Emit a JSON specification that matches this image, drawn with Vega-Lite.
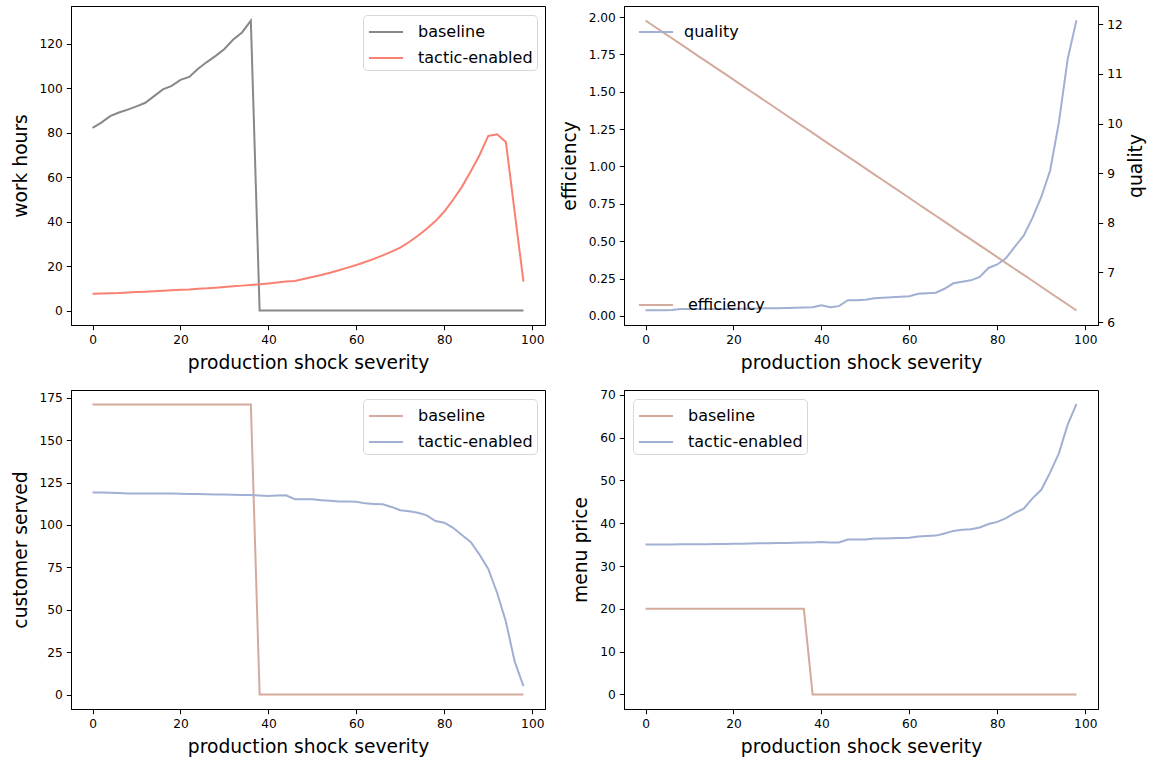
{
  "$schema": "https://vega.github.io/schema/vega-lite/v6.json",
  "padding": {"left": 10, "top": 5, "right": 5, "bottom": 5},
  "background": "white",
  "datasets": {
    "hours": [
      {"s":0,"baseline":82.1,"tactic-enabled":7.6},{"s":2,"baseline":84.5,"tactic-enabled":7.7},{"s":4,"baseline":87.4,"tactic-enabled":7.8},{"s":6,"baseline":89.0,"tactic-enabled":7.9},{"s":8,"baseline":90.3,"tactic-enabled":8.1},{"s":10,"baseline":91.8,"tactic-enabled":8.3},{"s":12,"baseline":93.4,"tactic-enabled":8.5},{"s":14,"baseline":96.4,"tactic-enabled":8.7},{"s":16,"baseline":99.4,"tactic-enabled":8.9},{"s":18,"baseline":101.0,"tactic-enabled":9.1},{"s":20,"baseline":103.7,"tactic-enabled":9.3},{"s":22,"baseline":105.0,"tactic-enabled":9.5},{"s":24,"baseline":108.7,"tactic-enabled":9.8},{"s":26,"baseline":111.7,"tactic-enabled":10.0},{"s":28,"baseline":114.5,"tactic-enabled":10.3},{"s":30,"baseline":117.6,"tactic-enabled":10.6},{"s":32,"baseline":121.8,"tactic-enabled":10.9},{"s":34,"baseline":125.0,"tactic-enabled":11.2},{"s":36,"baseline":130.3,"tactic-enabled":11.5},{"s":38,"baseline":0,"tactic-enabled":11.8},{"s":40,"baseline":0,"tactic-enabled":12.2},{"s":42,"baseline":0,"tactic-enabled":12.6},{"s":44,"baseline":0,"tactic-enabled":13.0},{"s":46,"baseline":0,"tactic-enabled":13.3},{"s":48,"baseline":0,"tactic-enabled":14.2},{"s":50,"baseline":0,"tactic-enabled":15.1},{"s":52,"baseline":0,"tactic-enabled":16.0},{"s":54,"baseline":0,"tactic-enabled":17.0},{"s":56,"baseline":0,"tactic-enabled":18.1},{"s":58,"baseline":0,"tactic-enabled":19.3},{"s":60,"baseline":0,"tactic-enabled":20.5},{"s":62,"baseline":0,"tactic-enabled":21.8},{"s":64,"baseline":0,"tactic-enabled":23.2},{"s":66,"baseline":0,"tactic-enabled":24.8},{"s":68,"baseline":0,"tactic-enabled":26.5},{"s":70,"baseline":0,"tactic-enabled":28.3},{"s":72,"baseline":0,"tactic-enabled":30.8},{"s":74,"baseline":0,"tactic-enabled":33.6},{"s":76,"baseline":0,"tactic-enabled":36.8},{"s":78,"baseline":0,"tactic-enabled":40.2},{"s":80,"baseline":0,"tactic-enabled":44.5},{"s":82,"baseline":0,"tactic-enabled":49.8},{"s":84,"baseline":0,"tactic-enabled":55.6},{"s":86,"baseline":0,"tactic-enabled":62.5},{"s":88,"baseline":0,"tactic-enabled":69.8},{"s":90,"baseline":0,"tactic-enabled":78.5},{"s":92,"baseline":0,"tactic-enabled":79.2},{"s":94,"baseline":0,"tactic-enabled":75.8},{"s":96,"baseline":0,"tactic-enabled":44.4},{"s":98,"baseline":0,"tactic-enabled":13.0}
    ],
    "eq": [
      {"s":0,"efficiency":1.977,"quality":6.235},{"s":2,"efficiency":1.937,"quality":6.235},{"s":4,"efficiency":1.898,"quality":6.235},{"s":6,"efficiency":1.858,"quality":6.24},{"s":8,"efficiency":1.819,"quality":6.26},{"s":10,"efficiency":1.779,"quality":6.26},{"s":12,"efficiency":1.739,"quality":6.26},{"s":14,"efficiency":1.700,"quality":6.26},{"s":16,"efficiency":1.660,"quality":6.265},{"s":18,"efficiency":1.621,"quality":6.265},{"s":20,"efficiency":1.581,"quality":6.27},{"s":22,"efficiency":1.541,"quality":6.27},{"s":24,"efficiency":1.502,"quality":6.275},{"s":26,"efficiency":1.462,"quality":6.275},{"s":28,"efficiency":1.423,"quality":6.28},{"s":30,"efficiency":1.383,"quality":6.28},{"s":32,"efficiency":1.343,"quality":6.285},{"s":34,"efficiency":1.304,"quality":6.29},{"s":36,"efficiency":1.264,"quality":6.295},{"s":38,"efficiency":1.225,"quality":6.30},{"s":40,"efficiency":1.185,"quality":6.34},{"s":42,"efficiency":1.145,"quality":6.30},{"s":44,"efficiency":1.106,"quality":6.32},{"s":46,"efficiency":1.066,"quality":6.44},{"s":48,"efficiency":1.027,"quality":6.44},{"s":50,"efficiency":0.987,"quality":6.45},{"s":52,"efficiency":0.947,"quality":6.48},{"s":54,"efficiency":0.908,"quality":6.49},{"s":56,"efficiency":0.868,"quality":6.50},{"s":58,"efficiency":0.829,"quality":6.51},{"s":60,"efficiency":0.789,"quality":6.52},{"s":62,"efficiency":0.749,"quality":6.57},{"s":64,"efficiency":0.710,"quality":6.58},{"s":66,"efficiency":0.670,"quality":6.59},{"s":68,"efficiency":0.631,"quality":6.67},{"s":70,"efficiency":0.591,"quality":6.78},{"s":72,"efficiency":0.551,"quality":6.81},{"s":74,"efficiency":0.512,"quality":6.84},{"s":76,"efficiency":0.472,"quality":6.91},{"s":78,"efficiency":0.433,"quality":7.09},{"s":80,"efficiency":0.393,"quality":7.16},{"s":82,"efficiency":0.353,"quality":7.29},{"s":84,"efficiency":0.314,"quality":7.52},{"s":86,"efficiency":0.274,"quality":7.74},{"s":88,"efficiency":0.235,"quality":8.10},{"s":90,"efficiency":0.195,"quality":8.52},{"s":92,"efficiency":0.155,"quality":9.05},{"s":94,"efficiency":0.116,"quality":10.02},{"s":96,"efficiency":0.076,"quality":11.3},{"s":98,"efficiency":0.036,"quality":12.08}
    ],
    "served": [
      {"s":0,"baseline":171,"tactic-enabled":119.1},{"s":2,"baseline":171,"tactic-enabled":119.1},{"s":4,"baseline":171,"tactic-enabled":119.0},{"s":6,"baseline":171,"tactic-enabled":118.8},{"s":8,"baseline":171,"tactic-enabled":118.5},{"s":10,"baseline":171,"tactic-enabled":118.5},{"s":12,"baseline":171,"tactic-enabled":118.5},{"s":14,"baseline":171,"tactic-enabled":118.5},{"s":16,"baseline":171,"tactic-enabled":118.5},{"s":18,"baseline":171,"tactic-enabled":118.5},{"s":20,"baseline":171,"tactic-enabled":118.3},{"s":22,"baseline":171,"tactic-enabled":118.2},{"s":24,"baseline":171,"tactic-enabled":118.2},{"s":26,"baseline":171,"tactic-enabled":118.1},{"s":28,"baseline":171,"tactic-enabled":118.0},{"s":30,"baseline":171,"tactic-enabled":117.9},{"s":32,"baseline":171,"tactic-enabled":117.8},{"s":34,"baseline":171,"tactic-enabled":117.7},{"s":36,"baseline":171,"tactic-enabled":117.6},{"s":38,"baseline":0,"tactic-enabled":117.4},{"s":40,"baseline":0,"tactic-enabled":117.1},{"s":42,"baseline":0,"tactic-enabled":117.4},{"s":44,"baseline":0,"tactic-enabled":117.5},{"s":46,"baseline":0,"tactic-enabled":115.2},{"s":48,"baseline":0,"tactic-enabled":115.2},{"s":50,"baseline":0,"tactic-enabled":115.1},{"s":52,"baseline":0,"tactic-enabled":114.6},{"s":54,"baseline":0,"tactic-enabled":114.2},{"s":56,"baseline":0,"tactic-enabled":113.8},{"s":58,"baseline":0,"tactic-enabled":113.8},{"s":60,"baseline":0,"tactic-enabled":113.7},{"s":62,"baseline":0,"tactic-enabled":112.7},{"s":64,"baseline":0,"tactic-enabled":112.4},{"s":66,"baseline":0,"tactic-enabled":112.2},{"s":68,"baseline":0,"tactic-enabled":110.6},{"s":70,"baseline":0,"tactic-enabled":108.7},{"s":72,"baseline":0,"tactic-enabled":108.0},{"s":74,"baseline":0,"tactic-enabled":107.2},{"s":76,"baseline":0,"tactic-enabled":105.6},{"s":78,"baseline":0,"tactic-enabled":102.3},{"s":80,"baseline":0,"tactic-enabled":101.3},{"s":82,"baseline":0,"tactic-enabled":98.3},{"s":84,"baseline":0,"tactic-enabled":94.0},{"s":86,"baseline":0,"tactic-enabled":90.0},{"s":88,"baseline":0,"tactic-enabled":82.5},{"s":90,"baseline":0,"tactic-enabled":74.0},{"s":92,"baseline":0,"tactic-enabled":60.0},{"s":94,"baseline":0,"tactic-enabled":43.0},{"s":96,"baseline":0,"tactic-enabled":19.5},{"s":98,"baseline":0,"tactic-enabled":4.9}
    ],
    "price": [
      {"s":0,"baseline":20,"tactic-enabled":35.0},{"s":2,"baseline":20,"tactic-enabled":35.0},{"s":4,"baseline":20,"tactic-enabled":35.0},{"s":6,"baseline":20,"tactic-enabled":35.05},{"s":8,"baseline":20,"tactic-enabled":35.1},{"s":10,"baseline":20,"tactic-enabled":35.1},{"s":12,"baseline":20,"tactic-enabled":35.1},{"s":14,"baseline":20,"tactic-enabled":35.1},{"s":16,"baseline":20,"tactic-enabled":35.15},{"s":18,"baseline":20,"tactic-enabled":35.15},{"s":20,"baseline":20,"tactic-enabled":35.2},{"s":22,"baseline":20,"tactic-enabled":35.2},{"s":24,"baseline":20,"tactic-enabled":35.25},{"s":26,"baseline":20,"tactic-enabled":35.3},{"s":28,"baseline":20,"tactic-enabled":35.3},{"s":30,"baseline":20,"tactic-enabled":35.35},{"s":32,"baseline":20,"tactic-enabled":35.4},{"s":34,"baseline":20,"tactic-enabled":35.45},{"s":36,"baseline":20,"tactic-enabled":35.5},{"s":38,"baseline":0,"tactic-enabled":35.5},{"s":40,"baseline":0,"tactic-enabled":35.6},{"s":42,"baseline":0,"tactic-enabled":35.5},{"s":44,"baseline":0,"tactic-enabled":35.5},{"s":46,"baseline":0,"tactic-enabled":36.2},{"s":48,"baseline":0,"tactic-enabled":36.2},{"s":50,"baseline":0,"tactic-enabled":36.2},{"s":52,"baseline":0,"tactic-enabled":36.4},{"s":54,"baseline":0,"tactic-enabled":36.45},{"s":56,"baseline":0,"tactic-enabled":36.5},{"s":58,"baseline":0,"tactic-enabled":36.55},{"s":60,"baseline":0,"tactic-enabled":36.6},{"s":62,"baseline":0,"tactic-enabled":36.9},{"s":64,"baseline":0,"tactic-enabled":37.0},{"s":66,"baseline":0,"tactic-enabled":37.1},{"s":68,"baseline":0,"tactic-enabled":37.6},{"s":70,"baseline":0,"tactic-enabled":38.2},{"s":72,"baseline":0,"tactic-enabled":38.45},{"s":74,"baseline":0,"tactic-enabled":38.6},{"s":76,"baseline":0,"tactic-enabled":39.0},{"s":78,"baseline":0,"tactic-enabled":39.8},{"s":80,"baseline":0,"tactic-enabled":40.3},{"s":82,"baseline":0,"tactic-enabled":41.2},{"s":84,"baseline":0,"tactic-enabled":42.4},{"s":86,"baseline":0,"tactic-enabled":43.4},{"s":88,"baseline":0,"tactic-enabled":45.8},{"s":90,"baseline":0,"tactic-enabled":47.8},{"s":92,"baseline":0,"tactic-enabled":51.8},{"s":94,"baseline":0,"tactic-enabled":56.3},{"s":96,"baseline":0,"tactic-enabled":63.0},{"s":98,"baseline":0,"tactic-enabled":67.8}
    ]
  },
  "columns": 2,
  "spacing": {"row": 65, "column": 79},
  "bounds": "flush",
  "resolve": {"scale": {"x": "independent", "y": "independent", "color": "independent"}, "legend": {"color": "independent"}},
  "concat": [
    {
      "width": 474, "height": 319,
      "data": {"name": "hours"},
      "transform": [{"fold": ["baseline", "tactic-enabled"], "as": ["series", "v"]}],
      "mark": {"type": "line", "strokeWidth": 2},
      "encoding": {
        "x": {"field": "s", "type": "quantitative", "scale": {"domain": [-4.9, 102.9], "nice": false, "zero": false}, "axis": {"values": [0, 20, 40, 60, 80, 100], "title": "production shock severity"}},
        "y": {"field": "v", "type": "quantitative", "scale": {"domain": [-6.5, 136.9], "nice": false, "zero": false}, "axis": {"values": [0, 20, 40, 60, 80, 100, 120], "title": "work hours"}},
        "color": {"field": "series", "type": "nominal", "scale": {"domain": ["baseline", "tactic-enabled"], "range": ["#888888", "#fa8072"]}, "legend": {"orient": "top-right"}}
      }
    },
    {
      "width": 474, "height": 319,
      "data": {"name": "eq"},
      "layer": [
        {
          "mark": {"type": "line", "strokeWidth": 2},
          "encoding": {
            "x": {"field": "s", "type": "quantitative", "scale": {"domain": [-4.9, 102.9], "nice": false, "zero": false}, "axis": {"values": [0, 20, 40, 60, 80, 100], "title": "production shock severity"}},
            "y": {"field": "efficiency", "type": "quantitative", "scale": {"domain": [-0.061, 2.074], "nice": false, "zero": false}, "axis": {"values": [0, 0.25, 0.5, 0.75, 1, 1.25, 1.5, 1.75, 2], "format": ".2f", "title": "efficiency"}},
            "color": {"datum": "efficiency", "type": "nominal", "scale": {"domain": ["efficiency"], "range": ["#d3aa9c"]}, "legend": {"orient": "bottom-left", "strokeColor": "transparent", "fillColor": "transparent"}}
          }
        },
        {
          "mark": {"type": "line", "strokeWidth": 2},
          "encoding": {
            "x": {"field": "s", "type": "quantitative"},
            "y": {"field": "quality", "type": "quantitative", "scale": {"domain": [5.94, 12.37], "nice": false, "zero": false}, "axis": {"orient": "right", "values": [6, 7, 8, 9, 10, 11, 12], "title": "quality", "titleAngle": 270, "titleBaseline": "top", "titlePadding": 4}},
            "color": {"datum": "quality", "type": "nominal", "scale": {"domain": ["quality"], "range": ["#a0afd2"]}, "legend": {"orient": "top-left", "strokeColor": "transparent", "fillColor": "transparent", "labelOffset": 15}}
          }
        }
      ],
      "resolve": {"scale": {"y": "independent", "color": "independent"}, "axis": {"y": "independent"}, "legend": {"color": "independent"}}
    },
    {
      "width": 474, "height": 319,
      "data": {"name": "served"},
      "transform": [{"fold": ["baseline", "tactic-enabled"], "as": ["series", "v"]}],
      "mark": {"type": "line", "strokeWidth": 2},
      "encoding": {
        "x": {"field": "s", "type": "quantitative", "scale": {"domain": [-4.9, 102.9], "nice": false, "zero": false}, "axis": {"values": [0, 20, 40, 60, 80, 100], "title": "production shock severity"}},
        "y": {"field": "v", "type": "quantitative", "scale": {"domain": [-8.55, 179.55], "nice": false, "zero": false}, "axis": {"values": [0, 25, 50, 75, 100, 125, 150, 175], "title": "customer served"}},
        "color": {"field": "series", "type": "nominal", "scale": {"domain": ["baseline", "tactic-enabled"], "range": ["#d3aa9c", "#a0afd2"]}, "legend": {"orient": "top-right"}}
      }
    },
    {
      "width": 474, "height": 319,
      "data": {"name": "price"},
      "transform": [{"fold": ["baseline", "tactic-enabled"], "as": ["series", "v"]}],
      "mark": {"type": "line", "strokeWidth": 2},
      "encoding": {
        "x": {"field": "s", "type": "quantitative", "scale": {"domain": [-4.9, 102.9], "nice": false, "zero": false}, "axis": {"values": [0, 20, 40, 60, 80, 100], "title": "production shock severity"}},
        "y": {"field": "v", "type": "quantitative", "scale": {"domain": [-3.39, 71.1], "nice": false, "zero": false}, "axis": {"values": [0, 10, 20, 30, 40, 50, 60, 70], "title": "menu price"}},
        "color": {"field": "series", "type": "nominal", "scale": {"domain": ["baseline", "tactic-enabled"], "range": ["#d3aa9c", "#a0afd2"]}, "legend": {"orient": "top-left"}}
      }
    }
  ],
  "config": {
    "font": "DejaVu Sans",
    "view": {"stroke": "#000000", "strokeWidth": 1},
    "axisX": {"titlePadding": 8},
    "axisY": {"titlePadding": 9},
    "axis": {"grid": false, "domainColor": "#000000", "tickColor": "#000000", "labelColor": "#000000", "titleColor": "#000000", "labelFont": "DejaVu Sans", "titleFont": "DejaVu Sans", "labelFontSize": 12.2, "titleFontSize": 18.7, "titleFontWeight": "normal", "tickSize": 4.7, "labelPadding": 4, "labelFlush": false, "labelOverlap": false},
    "legend": {"title": null, "labelFont": "DejaVu Sans", "labelFontSize": 16, "labelColor": "#000000", "symbolType": "M-1.42,0H1.42", "symbolSize": 576, "symbolStrokeWidth": 2, "symbolOffset": 6, "padding": 4, "cornerRadius": 4, "strokeColor": "#d6d6d6", "fillColor": "rgba(255,255,255,0.8)", "offset": 8.5, "rowPadding": 5, "labelOffset": 19}
  }
}
